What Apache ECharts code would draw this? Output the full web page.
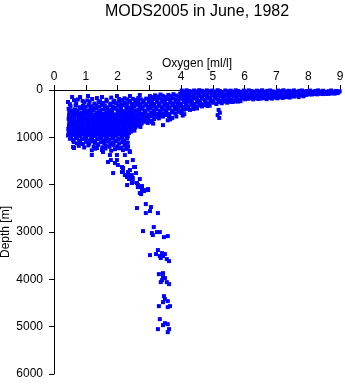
<!DOCTYPE html>
<html>
<head>
<meta charset="utf-8">
<script src="https://cdn.jsdelivr.net/npm/echarts@6/dist/echarts.min.js"></script>
<style>
  html, body { margin: 0; padding: 0; background: #fff; overflow: hidden; }
  #chart { width: 345px; height: 384px; }
</style>
</head>
<body>
<div id="chart"></div>
<script>
// MODS2005 oxygen profiles, June 1982: [oxygen ml/l, depth m]
const xTicks = [0, 1, 2, 3, 4, 5, 6, 7, 8, 9];
const yTicks = [0, 1000, 2000, 3000, 4000, 5000, 6000];

// near-surface observations (0-110 m)
const surfaceObs = [
  [4.02,12],[4.09,30],[4.17,6],[4.26,22],[4.33,40],[4.41,10],[4.5,28],[4.57,4],[4.66,18],[4.74,36],[4.81,8],[4.9,24],[4.98,12],[5.07,32],[5.15,5],[5.22,20],[5.31,42],[5.39,10],[5.48,26],[5.56,14],[5.63,36],[5.72,6],[5.8,22],[5.89,44],[5.97,12],[6.05,30],[6.13,8],[6.22,20],[6.3,38],[6.38,14],[6.47,26],[6.55,6],[6.64,34],[6.71,18],[6.8,10],[6.88,28],[6.97,40],[7.05,12],[7.13,24],[7.22,6],[7.3,32],[7.38,16],[7.47,26],[7.55,8],[7.64,36],[7.72,18],[7.8,10],[7.89,30],[7.97,22],[8.06,12],[8.14,38],[8.22,20],[8.31,8],[8.39,30],[8.47,16],[8.56,42],[8.64,24],[8.72,10],[8.8,34],[8.88,20],[8.95,40],[8.99,28],
  [4.04,70],[4.12,92],[4.21,58],[4.29,80],[4.38,104],[4.46,64],[4.54,88],[4.62,52],[4.71,76],[4.79,100],[4.87,60],[4.96,84],[5.04,66],[5.13,96],[5.21,54],[5.29,78],[5.37,102],[5.46,62],[5.54,86],[5.63,56],[5.7,74],[5.79,98],[5.87,60],[5.95,82],[6.04,68],[6.12,94],[6.21,56],[6.29,78],[6.37,100],[6.45,64],[6.54,86],[6.62,58],[6.7,74],[6.79,96],[6.87,62],[6.95,84],[7.04,54],[7.12,72],[7.2,92],[7.29,60],[7.37,80],[7.45,66],[7.54,88],[7.62,56],[7.7,74],[7.79,90],[7.87,62],[7.95,78],[8.04,58],[8.12,84],[8.2,66],[8.29,52],[8.37,72],[8.45,60],[8.54,80],[8.62,54],[8.7,68],[8.79,56],[8.87,62],[8.94,50]
];

// upper layer (100-380 m)
const upperObs = [
  [3.02,128],[3.1,150],[3.18,112],[3.27,138],[3.35,96],[3.42,122],[3.51,146],[3.6,104],[3.68,130],[3.76,88],[3.85,116],[3.93,142],[3.97,76],[4.06,124],[4.14,150],[4.23,112],[4.31,136],[4.4,118],[4.48,160],[4.57,126],[4.65,146],[4.73,114],[4.82,138],[4.9,162],[4.99,120],[5.07,144],[5.16,116],[5.24,136],[5.32,158],[5.41,122],[5.49,146],[5.58,112],[5.66,132],[5.74,154],[5.83,118],[5.91,140],[6.0,124],[6.08,150],[6.17,114],[6.25,134],[6.33,120],[6.42,146],[6.5,112],[6.59,130],[6.67,118],[6.76,140],[6.84,110],[6.92,126],[7.01,114],[7.09,136],[7.18,110],[7.26,124],[7.35,112],[7.43,132],[7.52,106],[7.6,120],[7.69,100],[7.77,112],[7.86,96],[7.94,104],[8.03,90],[8.11,96],[8.2,84],[8.28,92],[8.37,78],[8.46,86],[8.55,74],[8.64,82],[8.74,70],[8.83,76],[8.92,66],
  [2.05,190],[2.14,214],[2.22,176],[2.31,200],[2.4,228],[2.48,186],[2.57,210],[2.65,172],[2.73,196],[2.82,222],[2.9,182],[2.99,206],[3.07,232],[3.15,190],[3.24,214],[3.32,178],[3.41,202],[3.49,226],[3.57,188],[3.66,212],[3.74,174],[3.83,198],[3.91,224],[3.99,184],[4.08,208],[4.16,230],[4.25,190],[4.33,216],[4.42,180],[4.5,204],[4.58,228],[4.67,186],[4.75,212],[4.84,176],[4.92,198],[5.0,222],[5.09,184],[5.17,208],[5.26,230],[5.34,188],[5.42,214],[5.51,178],[5.59,200],[5.68,224],[5.76,186],[5.84,210],[5.93,176],[6.01,196],[6.1,186],[6.18,176],[6.27,198],[6.35,172],[6.43,190],[6.52,180],[6.6,170],[6.69,194],[6.77,166],[6.86,182],[6.94,160],[7.03,176],[7.11,154],[7.2,168],[7.3,150],[7.42,160],[7.55,140],[7.7,150],[7.85,132],
  [0.95,262],[1.12,248],[1.27,286],[1.4,256],[1.55,274],[1.66,244],[1.78,290],[1.87,258],[1.96,278],[2.05,248],[2.13,300],[2.22,264],[2.3,282],[2.39,250],[2.47,296],[2.56,268],[2.64,244],[2.73,286],[2.81,260],[2.9,300],[2.98,250],[3.07,276],[3.15,294],[3.24,256],[3.32,280],[3.41,246],[3.49,270],[3.58,298],[3.66,258],[3.75,284],[3.83,248],[3.92,272],[4.0,296],[4.09,254],[4.17,278],[4.26,244],[4.34,268],[4.43,292],[4.51,252],[4.6,276],[4.68,300],[4.77,258],[4.85,282],[4.94,248],[5.02,270],[5.11,296],[5.19,256],[5.28,280],[5.36,246],[5.45,268],[5.53,250],[5.62,254],[5.7,240],[5.79,244],[5.87,236],
  [0.52,346],[0.68,322],[0.8,364],[0.91,334],[1.0,356],[1.09,318],[1.17,342],[1.26,370],[1.34,328],[1.43,352],[1.51,314],[1.6,338],[1.68,366],[1.77,326],[1.85,350],[1.94,374],[2.02,332],[2.11,358],[2.19,318],[2.28,344],[2.36,368],[2.45,324],[2.53,350],[2.62,312],[2.7,338],[2.79,362],[2.87,326],[2.96,354],[3.04,316],[3.13,340],[3.21,366],[3.3,330],[3.38,356],[3.47,318],[3.55,344],[3.64,370],[3.72,328],[3.81,352],[3.89,316],[3.98,340],[4.06,364],[4.15,326],[4.23,350],[4.32,314],[4.4,338],[4.49,362],[4.57,324],[4.66,348],[4.74,318],[4.83,340],[4.9,330],[5.18,420],[5.22,480],[5.2,590],[5.15,530],
  [0.44,254],[0.57,148],[0.82,148],[1.07,127],[1.51,148],[1.98,127],[2.39,127],[2.7,106],[0.63,215],[0.9,230],[1.2,190],[1.35,170],[1.65,205],[1.8,160],[0.75,200],[1.05,220],[1.45,236],[1.9,226],[0.5,300],[0.7,280]
];

// intermediate layer (380-1300 m)
const midObs = [
  [0.46,398],[0.55,432],[0.66,410],[0.75,444],[0.86,390],[0.95,422],[1.05,446],[1.14,404],[1.24,428],[1.33,392],[1.43,438],[1.52,414],[1.62,398],[1.71,442],[1.81,420],[1.9,394],[2.0,430],[2.09,410],[2.19,446],[2.28,400],[2.38,424],[2.47,390],[2.57,436],[2.66,414],[2.76,398],[2.85,440],[2.95,418],[3.04,392],[3.14,430],[3.23,408],[3.33,444],[3.42,400],[3.52,426],[3.61,392],[3.71,438],[3.8,412],[3.9,396],[3.99,432],[4.09,416],[4.18,398],[4.28,420],[4.38,402],[4.5,390],
  [0.48,470],[0.58,498],[0.67,458],[0.78,512],[0.88,480],[0.97,452],[1.07,500],[1.16,466],[1.26,516],[1.35,484],[1.45,456],[1.54,506],[1.64,472],[1.73,494],[1.83,460],[1.92,514],[2.02,478],[2.11,452],[2.21,502],[2.3,468],[2.4,490],[2.49,458],[2.59,510],[2.68,476],[2.78,498],[2.87,462],[2.97,516],[3.06,482],[3.16,454],[3.25,504],[3.35,470],[3.44,492],[3.54,460],[3.63,508],[3.73,474],[3.82,496],[3.92,462],[4.01,486],[4.1,510],[4.05,540],
  [0.47,540],[0.57,568],[0.68,528],[0.77,582],[0.87,550],[0.96,522],[1.06,572],[1.15,538],[1.25,586],[1.34,554],[1.44,526],[1.53,576],[1.63,542],[1.72,564],[1.82,530],[1.91,584],[2.01,548],[2.1,524],[2.2,570],[2.29,536],[2.39,560],[2.48,528],[2.58,580],[2.67,546],[2.77,568],[2.86,532],[2.96,586],[3.05,552],[3.15,526],[3.24,574],[3.34,540],[3.43,562],[3.53,530],[3.62,556],[3.72,590],[3.85,560],
  [0.46,610],[0.56,638],[0.65,598],[0.76,652],[0.85,620],[0.95,594],[1.04,644],[1.14,608],[1.23,656],[1.33,624],[1.42,596],[1.52,646],[1.61,612],[1.71,634],[1.8,600],[1.9,654],[1.99,618],[2.09,594],[2.18,640],[2.28,606],[2.37,630],[2.47,598],[2.56,650],[2.66,616],[2.75,638],[2.85,602],[2.94,626],[3.05,648],[3.15,612],[3.3,600],[3.58,640],[3.66,620],
  [0.48,680],[0.57,708],[0.67,668],[0.76,722],[0.86,690],[0.95,664],[1.05,714],[1.14,678],[1.24,726],[1.33,694],[1.43,666],[1.52,716],[1.62,682],[1.71,704],[1.81,670],[1.9,724],[2.0,688],[2.09,662],[2.19,710],[2.28,676],[2.38,700],[2.47,668],[2.57,720],[2.66,686],[2.76,708],[2.85,672],[2.95,696],[3.08,680],[3.12,710],
  [0.47,750],[0.56,778],[0.66,738],[0.75,792],[0.85,760],[0.94,734],[1.04,784],[1.13,748],[1.23,796],[1.32,764],[1.42,736],[1.51,786],[1.61,752],[1.7,774],[1.8,740],[1.89,794],[1.99,758],[2.08,732],[2.18,780],[2.27,746],[2.37,770],[2.46,738],[2.56,790],[2.65,756],[2.72,780],[3.43,742],
  [0.45,820],[0.55,848],[0.64,808],[0.74,862],[0.83,830],[0.93,804],[1.02,854],[1.12,818],[1.21,866],[1.31,834],[1.4,806],[1.5,856],[1.59,822],[1.69,844],[1.78,810],[1.88,864],[1.97,828],[2.07,802],[2.16,850],[2.26,816],[2.35,840],[2.45,808],[2.53,858],
  [0.46,890],[0.55,918],[0.65,878],[0.74,932],[0.84,900],[0.93,874],[1.03,924],[1.12,888],[1.22,936],[1.31,904],[1.41,876],[1.5,926],[1.6,892],[1.69,914],[1.79,880],[1.88,934],[1.98,898],[2.07,872],[2.17,920],[2.26,886],[2.36,910],[2.42,880],
  [0.44,960],[0.54,988],[0.63,948],[0.73,1002],[0.82,970],[0.92,944],[1.01,994],[1.11,958],[1.2,1006],[1.3,974],[1.39,946],[1.49,996],[1.58,962],[1.68,984],[1.77,950],[1.87,1004],[1.96,968],[2.06,942],[2.15,990],[2.25,956],[2.32,980],
  [0.5,1030],[0.6,1058],[0.69,1018],[0.79,1072],[0.88,1040],[0.98,1014],[1.07,1064],[1.17,1028],[1.26,1076],[1.36,1044],[1.45,1016],[1.55,1066],[1.64,1032],[1.74,1054],[1.83,1020],[1.93,1074],[2.02,1038],[2.12,1012],[2.21,1060],[2.3,1026],
  [0.62,1100],[0.72,1128],[0.82,1120],[0.91,1142],[1.01,1096],[1.1,1134],[1.2,1088],[1.29,1116],[1.39,1146],[1.48,1102],[1.58,1130],[1.67,1090],[1.77,1138],[1.86,1108],[1.96,1084],[2.05,1126],[2.15,1100],[2.24,1144],[2.32,1116],
  [0.6,1205],[0.78,1180],[0.95,1214],[1.08,1170],[1.25,1196],[1.38,1160],[1.52,1212],[1.63,1178],[1.75,1200],[1.88,1166],[2.0,1190],[2.12,1216],[2.22,1172],[2.33,1198],
  [0.63,1226],[1.19,1274],[1.3,1240],[1.51,1268],[1.62,1236],[1.8,1284],[1.92,1250],[2.05,1230],[2.17,1270],[2.28,1244],[2.38,1290],[1.35,1226],[1.19,1374]
];

// deep observations (below 1300 m)
const deepObs = [
  [1.54,1311],[1.76,1374],[1.98,1374],[2.23,1374],[2.39,1311],[2.48,1480],[2.3,1522],[1.7,1522],[1.98,1480],[2.14,1628],[2.55,1628],[2.17,1733],[2.33,1733],[1.86,1755],[2.45,1797],[2.58,1755],[2.3,1839],[2.48,1860],[2.7,1881],[2.48,1945],[2.3,2008],[2.64,2008],[2.7,2051],[2.7,2177],[2.8,2114],[2.96,2114],
  [1.79,1480],[1.92,1543],[2.01,1585],[2.17,1649],[2.14,1733],[2.23,1797],[2.33,1818],[2.39,1691],[2.52,1628],[2.36,1881],[2.45,1966],[2.61,1966],[2.64,2051],[2.77,2029],[2.77,2114],[2.86,2114],[2.96,2093],[2.74,2199],[2.83,2135],
  [2.89,2410],[3.05,2473],[3.02,2558],[2.61,2494],[2.89,2600],[3.27,2600],
  [3.14,2896],[2.8,2981],[3.08,3023],[3.24,3002],[3.33,3002],[3.11,3065],[3.46,3108],[3.58,3086],
  [3.27,3382],[3.02,3488],[3.21,3467],[3.33,3509],[3.4,3446],[3.43,3509],[3.36,3551],[3.49,3467],[3.55,3573],[3.62,3615],
  [3.43,3869],[3.3,3890],[3.43,3953],[3.49,3974],[3.4,4017],[3.36,4059],[3.55,4059],[3.62,4101],
  [3.46,4355],[3.49,4418],[3.58,4460],[3.43,4482],[3.3,4566],[3.65,4566],[3.58,4587],
  [3.33,4841],[3.49,4926],[3.43,4968],[3.58,4947],[3.27,5052],[3.62,5052],[3.58,5116]
];

const allObs = surfaceObs.concat(upperObs, midObs, deepObs);

const FONT = "'Liberation Sans', Arial, Helvetica, sans-serif";
const chart = echarts.init(document.getElementById('chart'), null, { renderer: 'canvas' });

chart.setOption({
  backgroundColor: '#ffffff',
  animation: false,
  title: {
    text: 'MODS2005 in June, 1982',
    left: 105,
    top: 4,
    padding: 0,
    textStyle: { fontFamily: FONT, fontSize: 16, fontWeight: 'normal', color: '#000' }
  },
  grid: { left: 54, right: 5, top: 90, bottom: 10, containLabel: false, outerBoundsMode: 'none' },
  xAxis: {
    type: 'value',
    position: 'top',
    min: xTicks[0],
    max: xTicks[xTicks.length - 1],
    interval: 1,
    name: 'Oxygen [ml/l]',
    nameLocation: 'middle',
    nameGap: 20,
    nameMoveOverlap: false,
    nameTextStyle: { fontFamily: FONT, fontSize: 12, color: '#000' },
    axisLine: { show: true, lineStyle: { color: '#000', width: 1 } },
    axisTick: { show: true, inside: false, length: 5, lineStyle: { color: '#000' } },
    axisLabel: { fontFamily: FONT, fontSize: 12, color: '#000', margin: 7 },
    splitLine: { show: false }
  },
  yAxis: {
    type: 'value',
    inverse: true,
    min: yTicks[0],
    max: yTicks[yTicks.length - 1],
    interval: 1000,
    name: 'Depth [m]',
    nameLocation: 'middle',
    nameGap: 42,
    nameRotate: 90,
    nameMoveOverlap: false,
    nameTextStyle: { fontFamily: FONT, fontSize: 12, color: '#000' },
    axisLine: { show: true, lineStyle: { color: '#000', width: 1 } },
    axisTick: { show: true, inside: false, length: 5, lineStyle: { color: '#000' } },
    axisLabel: { fontFamily: FONT, fontSize: 12, color: '#000', margin: 11, formatter: v => String(v) },
    splitLine: { show: false }
  },
  series: [{
    type: 'scatter',
    data: allObs,
    symbol: 'rect',
    symbolSize: 4,
    itemStyle: { color: '#0000ff', opacity: 1 },
    emphasis: { disabled: true },
    clip: false
  }]
});
</script>
</body>
</html>
